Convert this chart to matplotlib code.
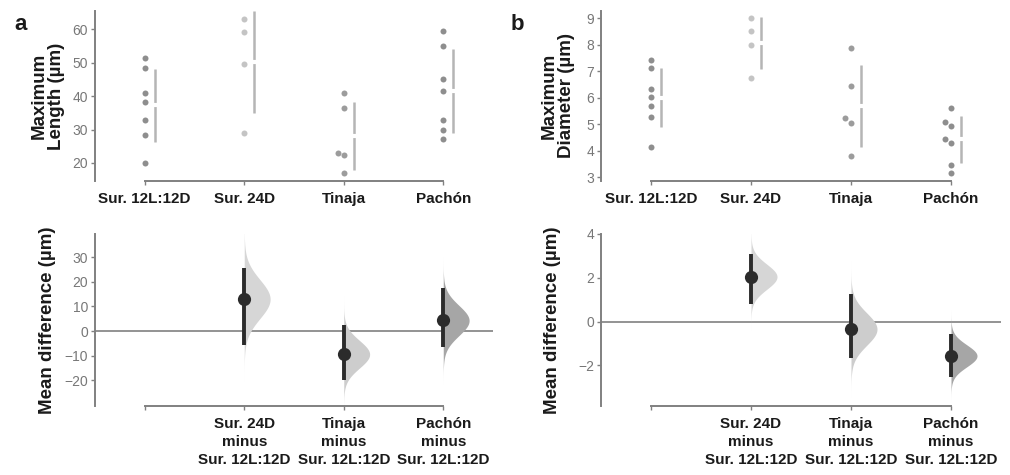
import numpy as np
import matplotlib
matplotlib.use("Agg")
import matplotlib.pyplot as plt

plt.rcParams['font.family'] = ['Liberation Sans', 'DejaVu Sans']

# ---------------- data ----------------
groups = ["Sur. 12L:12D", "Sur. 24D", "Tinaja", "Pachón"]
diff_labels = ["", "Sur. 24D\nminus\nSur. 12L:12D", "Tinaja\nminus\nSur. 12L:12D",
               "Pachón\nminus\nSur. 12L:12D"]

length_sur12 = [51.3, 48.4, 41.0, 38.4, 33.0, 28.5, 19.9]
length_sur24 = [63.2, 59.2, 49.6, 29.0]
length_tinaja = [40.8, 36.6, 23.1, 22.4, 17.0]
length_pachon = [59.5, 55.1, 45.2, 41.5, 33.0, 29.9, 27.1]

diam_sur12 = [7.42, 7.12, 6.32, 6.01, 5.67, 5.27, 4.15]
diam_sur24 = [9.00, 8.51, 8.00, 6.73]
diam_tinaja = [7.87, 6.44, 5.23, 5.03, 3.78]
diam_pachon = [5.62, 5.09, 4.93, 4.42, 4.30, 3.47, 3.15]

# mean differences vs Sur. 12L:12D with 95% CI (lo, hi)
length_diff = [13.0, -9.4, 4.3]
length_ci_lo = [-5.5, -19.7, -6.6]
length_ci_hi = [25.4, 2.3, 17.4]

diam_diff = [2.05, -0.34, -1.56]
diam_ci_lo = [0.82, -1.65, -2.53]
diam_ci_hi = [3.07, 1.24, -0.56]

# ---------------- styles ----------------
point_colors = ["#8e8e8e", "#c4c4c4", "#9c9c9c", "#8e8e8e"]
violin_colors = ["#d6d6d6", "#cdcdcd", "#a6a6a6"]
spine_col = "#808080"
tick_col = "#777777"

fig = plt.figure(figsize=(10.1, 4.75), dpi=100)
W, H = 1010, 475

def add_ax(x0, y0, x1, y1):
    return fig.add_axes([x0 / W, 1 - y1 / H, (x1 - x0) / W, (y1 - y0) / H])

ax_a_top = add_ax(95, 11, 493, 181)
ax_a_bot = add_ax(95, 234, 493, 406)
ax_b_top = add_ax(601, 11, 1001, 181)
ax_b_bot = add_ax(601, 234, 1001, 406)


def style_axis(ax, ylim, yticks):
    ax.set_xlim(-0.5, 3.5)
    ax.set_ylim(*ylim)
    for s in ["top", "right"]:
        ax.spines[s].set_visible(False)
    for s in ["left", "bottom"]:
        ax.spines[s].set_color(spine_col)
        ax.spines[s].set_linewidth(1.4)
    ax.spines["bottom"].set_bounds(0, 3)
    ax.set_yticks(yticks)
    ax.tick_params(axis="y", colors=spine_col, labelcolor=tick_col, labelsize=10,
                   length=3, width=1, pad=2)
    ax.tick_params(axis="x", colors=spine_col, labelcolor="#1a1a1a", labelsize=11,
                   length=3, width=1, pad=5)


def swarm(ax, x, vals, color, ms=6.0):
    # simple beeswarm: place points in ascending order, shifting left if overlapping
    trans = ax.transData
    placed = []
    for v in sorted(vals):
        _, py = trans.transform((x, v))
        off = 0.0
        for k in [0, -1, 1, -2, 2]:
            cand = k * ms * 1.0
            ok = True
            for (px0, py0) in placed:
                if (cand - px0) ** 2 + (py - py0) ** 2 < (ms * 0.95) ** 2:
                    ok = False
                    break
            if ok:
                off = cand
                break
        placed.append((off, py))
        xd = x + off / (ax.bbox.width / 4.0)
        ax.plot([xd], [v], "o", color=color, ms=ms * 0.72, mec="none", zorder=3)


def raw_panel(ax, data):
    for i, vals in enumerate(data):
        swarm(ax, i, vals, point_colors[i])
        m = np.mean(vals)
        sd = np.std(vals, ddof=1)
        ax.plot([i + 0.1, i + 0.1], [m - sd, m + sd], color="#b5b5b5", lw=1.8,
                solid_capstyle="butt", zorder=2)
        ax.plot([i + 0.1], [m], marker="_", color="white", ms=6, mew=3, zorder=2.5)


def diff_panel(ax, diffs, lo, hi):
    ax.axhline(0, color="#8a8a8a", lw=1.3, zorder=1)
    for j, (d, l, h) in enumerate(zip(diffs, lo, hi)):
        x = j + 1
        sig = (h - l) / 3.92
        yy = np.linspace(d - 4.2 * sig, d + 4.2 * sig, 300)
        dens = np.exp(-0.5 * ((yy - d) / sig) ** 2)
        ax.fill_betweenx(yy, x, x + 0.26 * dens, color=violin_colors[j], lw=0, zorder=2)
        ax.plot([x, x], [l, h], color="#2b2b2b", lw=2.8, solid_capstyle="butt", zorder=3)
        ax.plot([x], [d], "o", color="#2b2b2b", ms=9.5, mec="none", zorder=4)


ylab_kw = dict(fontsize=13.5, fontweight="bold", color="#1a1a1a")

# ---- panel a ----
style_axis(ax_a_top, (14.6, 65.5), [20, 30, 40, 50, 60])
ax_a_top.set_xticks(range(4))
ax_a_top.set_xticklabels(groups)
raw_panel(ax_a_top, [length_sur12, length_sur24, length_tinaja, length_pachon])
ax_a_top.set_ylabel("Maximum\nLength (µm)", labelpad=5, linespacing=1.05, **ylab_kw)

style_axis(ax_a_bot, (-30.4, 39.4), [-20, -10, 0, 10, 20, 30])
ax_a_bot.set_xticks(range(4))
ax_a_bot.set_xticklabels(diff_labels, linespacing=1.35)
diff_panel(ax_a_bot, length_diff, length_ci_lo, length_ci_hi)
ax_a_bot.set_ylabel("Mean difference (µm)", labelpad=6, **ylab_kw)

# ---- panel b ----
style_axis(ax_b_top, (2.85, 9.28), [3, 4, 5, 6, 7, 8, 9])
ax_b_top.set_xticks(range(4))
ax_b_top.set_xticklabels(groups)
raw_panel(ax_b_top, [diam_sur12, diam_sur24, diam_tinaja, diam_pachon])
ax_b_top.set_ylabel("Maximum\nDiameter (µm)", labelpad=8, linespacing=1.05, **ylab_kw)

style_axis(ax_b_bot, (-3.85, 4.0), [-2, 0, 2, 4])
ax_b_bot.set_xticks(range(4))
ax_b_bot.set_xticklabels(diff_labels, linespacing=1.35)
diff_panel(ax_b_bot, diam_diff, diam_ci_lo, diam_ci_hi)
ax_b_bot.set_ylabel("Mean difference (µm)", labelpad=12, **ylab_kw)

for ax in [ax_a_top, ax_a_bot, ax_b_top, ax_b_bot]:
    for lab in ax.get_xticklabels():
        lab.set_fontweight("bold")
        lab.set_fontsize(11)
        lab.set_color("#1a1a1a")

fig.text(14 / W, 1 - 30 / H, "a", fontsize=16, fontweight="bold", color="#1a1a1a")
fig.text(511 / W, 1 - 30 / H, "b", fontsize=16, fontweight="bold", color="#1a1a1a")

fig.savefig("out.png", dpi=100, facecolor="white")
